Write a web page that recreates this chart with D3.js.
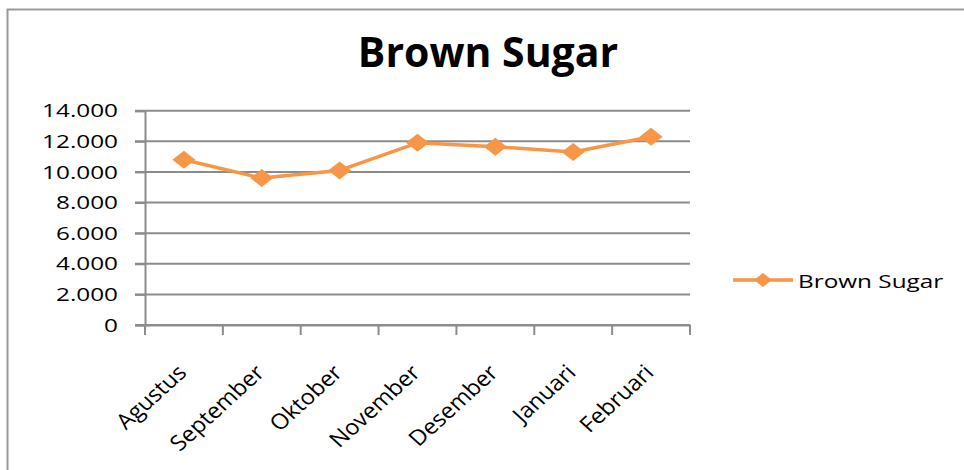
<!DOCTYPE html>
<html>
<head>
<meta charset="utf-8">
<script src="https://cdn.jsdelivr.net/npm/d3@7"></script>
<style>
  body { margin: 0; background: #fff; }
  text { font-family: 'Open Sans', sans-serif; fill: #000; }
</style>
</head>
<body>
<div id="chart"></div>
<script>
const months = ['Agustus', 'September', 'Oktober', 'November', 'Desember', 'Januari', 'Februari'];
const brownSugar = [10800, 9600, 10100, 11900, 11650, 11300, 12300];
const yTicks = [0, 2000, 4000, 6000, 8000, 10000, 12000, 14000];
const seriesName = 'Brown Sugar';

const w = 964, h = 470;
const sx = 1.28; // the picture is stretched sideways, so the text is too
const orange = '#f79646';
const grid = '#8c8c8c';

const svg = d3.select('#chart')
              .append('svg')
              .attr('width', w)
              .attr('height', h);

// chart frame
svg.append('rect')
   .attr('x', 7.5).attr('y', 9.5)
   .attr('width', w + 20).attr('height', h + 20)
   .style('fill', 'none')
   .style('stroke', '#999')
   .style('stroke-width', 2);

svg.append('text')
   .attr('x', 488).attr('y', 67)
   .attr('text-anchor', 'middle')
   .style('font-size', '41px')
   .style('font-weight', 'bold')
   .text(seriesName);

const xScale = d3.scaleBand()
                 .domain(months)
                 .range([145, 690])
                 .padding(0);

const yScale = d3.scaleLinear()
                 .domain([0, 14000])
                 .range([325, 110.7]);

const idFormat = d3.formatLocale({ decimal: ',', thousands: '.', grouping: [3], currency: ['Rp', ''] }).format(',');

// horizontal grid lines
svg.append('g')
   .selectAll('line')
   .data(yTicks)
   .enter()
   .append('line')
   .attr('x1', 135)
   .attr('x2', 690)
   .attr('y1', d => yScale(d))
   .attr('y2', d => yScale(d))
   .style('stroke', grid)
   .style('stroke-width', 2);

const yAxis = d3.axisLeft(yScale).tickValues(yTicks).tickFormat(idFormat).tickSize(10);
const yg = svg.append('g')
              .attr('transform', 'translate(145, 0)')
              .call(yAxis);
yg.selectAll('line, path').style('stroke', grid).style('stroke-width', 2);
yg.selectAll('text')
  .attr('x', 0)
  .attr('transform', `translate(-27, 0) scale(${sx}, 1)`)
  .style('font-size', '19px')
  .style('font-family', "'Open Sans', sans-serif")
  .style('fill', '#000');

const xAxis = d3.axisBottom(xScale).tickSize(0).tickSizeOuter(0);
const xg = svg.append('g')
              .attr('transform', 'translate(0, 325)')
              .call(xAxis);
xg.select('path').style('stroke', grid).style('stroke-width', 2);
xg.selectAll('text')
  .attr('x', 0).attr('y', 0).attr('dy', 0)
  .attr('text-anchor', 'end')
  .attr('transform', 'translate(4, 49) scale(1.1, 1) rotate(-45)')
  .style('font-size', '21.5px')
  .style('font-family', "'Open Sans', sans-serif")
  .style('fill', '#000');

// category boundary ticks
const bounds = months.map(m => xScale(m)).concat([xScale.range()[1]]);
svg.append('g')
   .selectAll('line')
   .data(bounds)
   .enter()
   .append('line')
   .attr('x1', d => d).attr('x2', d => d)
   .attr('y1', 325).attr('y2', 335)
   .style('stroke', grid)
   .style('stroke-width', 2);

const cx = (d, i) => xScale(months[i]) + xScale.bandwidth() / 2;
const line = d3.line()
               .x(cx)
               .y(d => yScale(d));

svg.append('path')
   .datum(brownSugar)
   .attr('d', line)
   .style('fill', 'none')
   .style('stroke', orange)
   .style('stroke-width', 3.5)
   .style('stroke-linejoin', 'round');

const diamond = (x, y, r) => `M${x},${y - r}L${x + r * sx},${y}L${x},${y + r}L${x - r * sx},${y}Z`;

svg.append('g')
   .selectAll('path')
   .data(brownSugar)
   .enter()
   .append('path')
   .attr('d', (d, i) => diamond(cx(d, i), yScale(d), 9))
   .style('fill', orange);

// legend
const legend = svg.append('g').attr('transform', 'translate(733, 280)');
legend.append('line')
      .attr('x1', 0).attr('x2', 60)
      .style('stroke', orange)
      .style('stroke-width', 3.5);
legend.append('path')
      .attr('d', diamond(30, 0, 7))
      .style('fill', orange);
legend.append('text')
      .attr('transform', `translate(65, 8) scale(${sx}, 1)`)
      .style('font-size', '19px')
      .text(seriesName);
</script>
</body>
</html>
